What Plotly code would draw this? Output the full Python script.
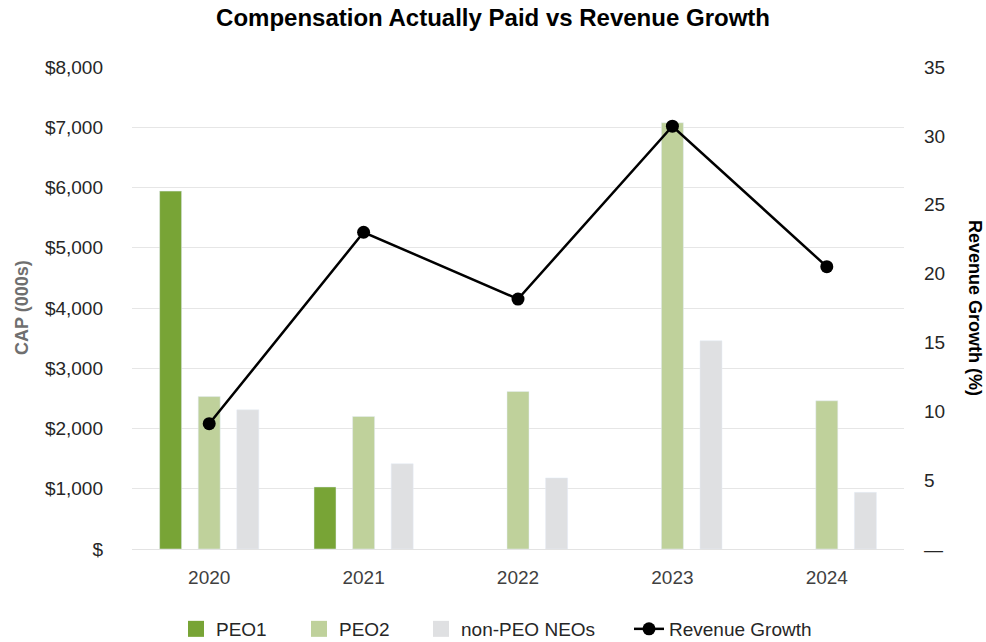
import plotly.graph_objects as go

years = ["2020", "2021", "2022", "2023", "2024"]
peo1 = [5940, 1030, None, None, None]
peo2 = [2530, 2200, 2615, 7075, 2460]
non_peo = [2310, 1415, 1180, 3455, 940]
rev_growth = [9.1, 23.0, 18.15, 30.7, 20.5]

left_tickvals = [0, 1000, 2000, 3000, 4000, 5000, 6000, 7000, 8000]
left_ticktext = ["$", "$1,000", "$2,000", "$3,000", "$4,000", "$5,000", "$6,000", "$7,000", "$8,000"]
right_tickvals = [0, 5, 10, 15, 20, 25, 30, 35]
right_ticktext = ["\u2014", "5", "10", "15", "20", "25", "30", "35"]

FONT = "Liberation Sans, Arial, sans-serif"
TXT = "#262626"
C_PEO1 = "#78a436"
C_PEO2 = "#bfd19b"
C_NON = "#dfe0e2"

fig = go.Figure()
fig.add_trace(go.Bar(x=years, y=peo1, name="PEO1", marker_color=C_PEO1, showlegend=False))
fig.add_trace(go.Bar(x=years, y=peo2, name="PEO2", marker_color=C_PEO2, showlegend=False))
fig.add_trace(go.Bar(x=years, y=non_peo, name="non-PEO NEOs", marker_color=C_NON, showlegend=False))
fig.add_trace(go.Scatter(x=years, y=rev_growth, name="Revenue Growth", yaxis="y2",
                         mode="lines+markers",
                         line=dict(color="black", width=2.5),
                         marker=dict(color="black", size=13),
                         legend="legend4"))

# legend entries for the bar series (larger square swatches)
for nm, col, lg in [("PEO1", C_PEO1, "legend"), ("PEO2", C_PEO2, "legend2"),
                    ("non-PEO NEOs", C_NON, "legend3")]:
    fig.add_trace(go.Scatter(x=years, y=[None] * len(years), name=nm, mode="markers",
                             marker=dict(symbol="square", size=18, color=col),
                             legend=lg, hoverinfo="skip"))

leg_common = dict(orientation="h", xref="container", yref="container",
                  xanchor="left", yanchor="middle", y=1 - 629 / 642,
                  font=dict(size=19, color=TXT), bgcolor="rgba(0,0,0,0)",
                  borderwidth=0)

fig.update_layout(
    width=986, height=642,
    margin=dict(l=132, r=82, t=67, b=93),
    paper_bgcolor="white", plot_bgcolor="white",
    font=dict(family=FONT, size=19, color=TXT),
    title=dict(text="<b>Compensation Actually Paid vs Revenue Growth</b>",
               x=0.5, xanchor="center", xref="container",
               y=1 - 18 / 642, yanchor="middle", yref="container",
               font=dict(size=24, color="black")),
    barmode="group", bargap=0.25, bargroupgap=0.43,
    showlegend=True,
    legend=dict(x=176 / 986, **leg_common),
    legend2=dict(x=299 / 986, **leg_common),
    legend3=dict(x=421 / 986, **leg_common),
    legend4=dict(x=629 / 986, **leg_common),
    xaxis=dict(showgrid=False, showline=True, linecolor="#e3e3e3", linewidth=1,
               ticks="", ticklabelstandoff=11, tickfont=dict(size=19, color="#404040"),
               range=[-0.5, 4.5]),
    yaxis=dict(range=[0, 8000], tickvals=left_tickvals, ticktext=left_ticktext,
               showgrid=True, gridcolor="#e6e6e6", gridwidth=1.2, zeroline=False,
               ticks="", ticklabelstandoff=28, tickfont=dict(size=19, color=TXT)),
    yaxis2=dict(range=[0, 35], tickvals=right_tickvals, ticktext=right_ticktext,
                overlaying="y", side="right", showgrid=False, zeroline=False,
                ticks="", ticklabelstandoff=19, tickfont=dict(size=19, color=TXT)),
    annotations=[
        dict(text="<b>CAP (000s)</b>", xref="paper", yref="paper", x=0, y=0.5,
             xanchor="center", yanchor="middle", xshift=-110, textangle=-90,
             showarrow=False, font=dict(size=18, color="#6f6f6f")),
        dict(text="<b>Revenue Growth (%)</b>", xref="paper", yref="paper", x=1, y=0.5,
             xanchor="center", yanchor="middle", xshift=71, textangle=90,
             showarrow=False, font=dict(size=18, color="black")),
    ],
)

fig.write_html("out.html")
